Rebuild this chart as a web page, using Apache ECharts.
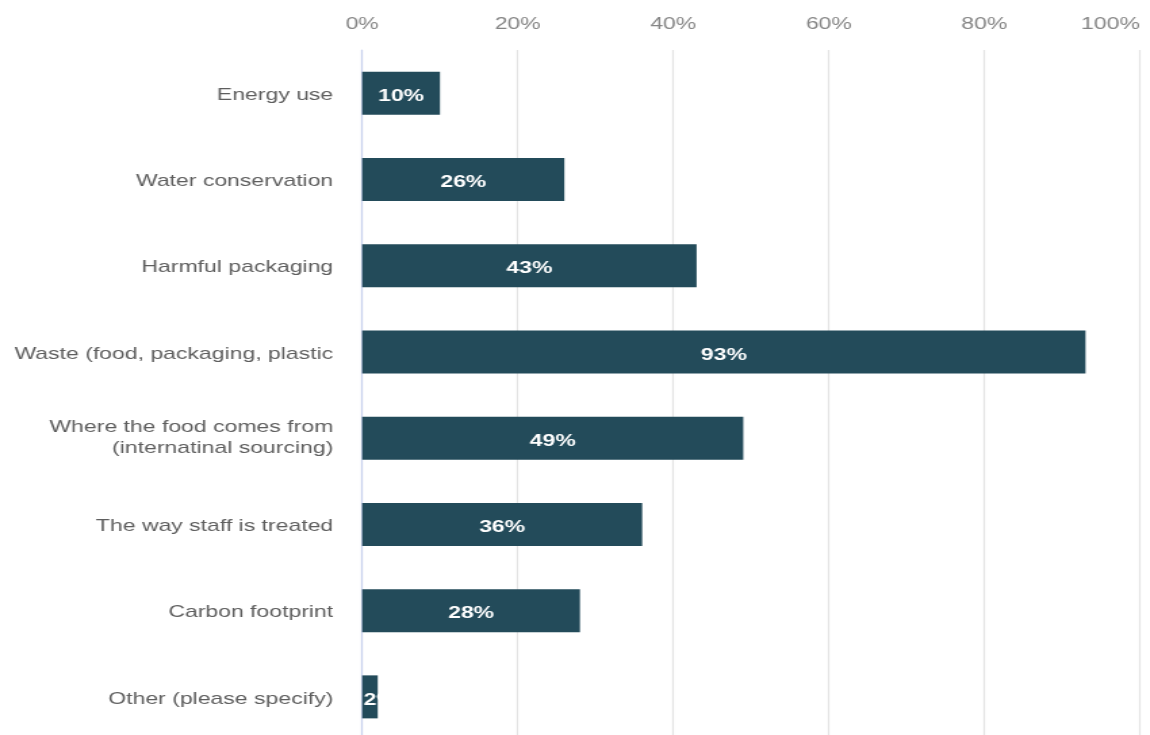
<!DOCTYPE html>
<html>
<head>
<meta charset="utf-8">
<script src="https://cdn.jsdelivr.net/npm/echarts@6/dist/echarts.min.js"></script>
<style>
  html, body { margin: 0; padding: 0; background: #ffffff; overflow: hidden; }
  #wrap { width: 1150px; height: 735px; overflow: hidden; }
  /* the chart is laid out narrow and widened, giving the broad lettering */
  #chart { width: 850px; height: 735px; transform: scaleX(1.3529); transform-origin: 0 0; }
</style>
</head>
<body>
<div id="wrap"><div id="chart"></div></div>
<script>
// Survey topics, top to bottom
const categories = [
  'Energy use',
  'Water conservation',
  'Harmful packaging',
  'Waste (food, packaging, plastic',
  'Where the food comes from\n(internatinal sourcing)',
  'The way staff is treated',
  'Carbon footprint',
  'Other (please specify)'
];
// Share of respondents, percent
const shares = [10, 26, 43, 93, 49, 36, 28, 2];
const axisTicks = [0, 20, 40, 60, 80, 100];

const chart = echarts.init(document.getElementById('chart'), null, { renderer: 'canvas' });

const barData = shares.map((v) => {
  const item = { value: v };
  // the smallest bar is too narrow to centre its label
  if (v < 5) {
    item.label = { position: 'insideLeft', distance: 1 };
  }
  return item;
});

const font = 'Liberation Sans, Arial, Helvetica, sans-serif';

chart.setOption({
  animation: false,
  grid: {
    left: 267.7, right: 7.4, top: 50, height: 690,
    outerBoundsMode: 'none', containLabel: false
  },
  xAxis: {
    type: 'value',
    position: 'top',
    min: axisTicks[0],
    max: axisTicks[axisTicks.length - 1],
    interval: 20,
    axisLine: { show: false },
    axisTick: { show: false },
    axisLabel: {
      formatter: '{value}%',
      color: '#858585',
      fontSize: 17,
      fontFamily: font,
      margin: 17,
      alignMaxLabel: 'right'
    },
    splitLine: { show: true, lineStyle: { color: '#e3e3e3', width: 1.2 } }
  },
  yAxis: {
    type: 'category',
    data: categories,
    inverse: true,
    axisLine: { show: true, lineStyle: { color: '#c9d2ee', width: 1.2 } },
    axisTick: { show: false },
    axisLabel: {
      color: '#5e5e5e',
      fontSize: 17,
      fontFamily: font,
      margin: 21.4,
      lineHeight: 21,
      align: 'right',
      // single-line names sit a touch below the bar centre
      formatter: (name) => name.indexOf('\n') < 0 ? '{s|' + name + '}' : name,
      rich: {
        s: {
          color: '#5e5e5e',
          fontSize: 17,
          fontFamily: font,
          padding: [4, 0, 0, 0]
        }
      }
    }
  },
  series: [{
    type: 'bar',
    data: barData,
    barWidth: 43,
    itemStyle: { color: '#234b5a' },
    label: {
      show: true,
      position: 'inside',
      formatter: '{c}%',
      color: '#ffffff',
      fontSize: 17,
      fontWeight: 'bold',
      fontFamily: font,
      offset: [0, 3]
    }
  }]
});
</script>
</body>
</html>
